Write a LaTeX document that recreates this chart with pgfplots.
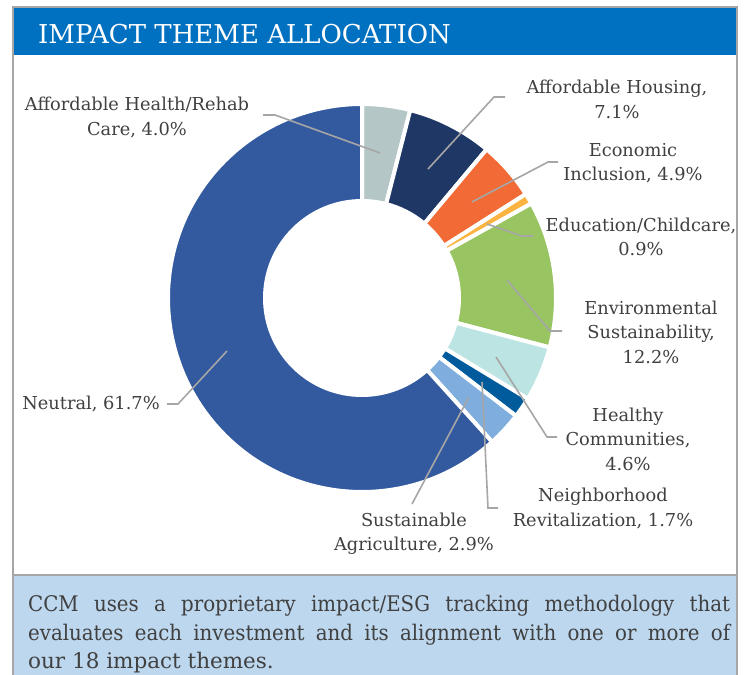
\documentclass[border=0pt]{standalone}
\usepackage{fontspec}
\setmainfont{DejaVu Serif}
\newfontfamily\narrowserif[FakeStretch=0.92]{DejaVu Serif}
\usepackage{pgfplots}
\pgfplotsset{compat=1.18}
\usepackage{pgfplotstable}
\usetikzlibrary{calc}

\definecolor{c0}{HTML}{B4C6C6}
\definecolor{c1}{HTML}{1E3765}
\definecolor{c2}{HTML}{F26A35}
\definecolor{c3}{HTML}{FBB441}
\definecolor{c4}{HTML}{98C462}
\definecolor{c5}{HTML}{BCE4E3}
\definecolor{c6}{HTML}{005B9C}
\definecolor{c7}{HTML}{7FAEDE}
\definecolor{c8}{HTML}{33599F}
\definecolor{hdr}{HTML}{0070C0}
\definecolor{boxbg}{HTML}{BDD7EE}
\definecolor{frame}{HTML}{A6A6A6}
\definecolor{txt}{HTML}{404040}

\pgfplotstableread[col sep=comma]{
theme,value
Affordable Health/Rehab Care,4.0
Affordable Housing,7.1
Economic Inclusion,4.9
Education/Childcare,0.9
Environmental Sustainability,12.2
Healthy Communities,4.6
Neighborhood Revitalization,1.7
Sustainable Agriculture,2.9
Neutral,61.7
}\slices

\begin{document}
\begin{tikzpicture}[x=1pt,y=1pt,
  lbl/.style={font=\fontsize{17.8}{24.5}\selectfont, text=txt, align=center, inner sep=0pt},
  lead/.style={draw=frame, line width=1.6pt}]
\useasboundingbox (0,0) rectangle (748,-675);
\fill[white] (0,0) rectangle (748,-675);
% outer frame
\draw[frame, line width=1.5pt] (13,-700) -- (13,-7) -- (737,-7) -- (737,-700);
% header
\fill[hdr] (14,-8) rectangle (736,-55);
\node[anchor=base west, inner sep=0pt, text=white, font=\fontsize{26}{30}\selectfont] at (38,-43) {IMPACT THEME ALLOCATION};
% bottom box
\fill[boxbg] (13,-575) rectangle (737,-700);
\draw[frame, line width=2pt] (13,-700) -- (13,-575) -- (737,-575) -- (737,-700);
\begin{scope}[every node/.style={anchor=base west, inner sep=0pt, text=txt}]
\node[font=\narrowserif\fontsize{21.5}{29}\selectfont] at (28,-611) {\makebox[702pt][s]{CCM uses a proprietary impact/ESG tracking methodology that}};
\node[font=\narrowserif\fontsize{21.5}{29}\selectfont] at (28,-640) {\makebox[702pt][s]{evaluates each investment and its alignment with one or more of}};
\node[font=\fontsize{21.5}{29}\selectfont] at (28,-668) {our 18 impact themes.};
\end{scope}

\begin{axis}[at={(0,0)}, anchor=north west, x=1pt, y=1pt,
  xmin=0, xmax=748, ymin=-675, ymax=0, enlargelimits=false,
  hide axis, clip=false]
\pgfplotsextra{%
  \coordinate (ctr) at (axis cs:362,-298);
  \gdef\cum{0}%
  \pgfplotstableforeachcolumnelement{value}\of\slices\as\v{%
    \pgfmathsetmacro\sa{90-3.6*\cum}%
    \pgfmathsetmacro\ea{90-3.6*(\cum+\v)}%
    \pgfmathsetmacro\newcum{\cum+\v}%
    \xdef\cum{\newcum}%
    \filldraw[draw=white, line width=4pt, line join=bevel, fill=c\pgfplotstablerow]
      ($(ctr)+(\sa:194pt)$) arc[start angle=\sa, end angle=\ea, radius=194pt]
      -- ($(ctr)+(\ea:97pt)$) arc[start angle=\ea, end angle=\sa, radius=97pt] -- cycle;
  }%
  % leader lines
  \draw[lead] (axis cs:263,-115) -- (axis cs:275,-115) -- (axis cs:380,-153);
  \draw[lead] (axis cs:505,-97) -- (axis cs:494,-97) -- (axis cs:428,-169);
  \draw[lead] (axis cs:558,-162) -- (axis cs:548,-162) -- (axis cs:472,-202);
  \draw[lead] (axis cs:533,-236) -- (axis cs:522,-236) -- (axis cs:487,-224);
  \draw[lead] (axis cs:562,-331) -- (axis cs:550,-331) -- (axis cs:507,-280);
  \draw[lead] (axis cs:557,-437) -- (axis cs:547,-437) -- (axis cs:496,-357);
  \draw[lead] (axis cs:498,-508) -- (axis cs:488,-508) -- (axis cs:482,-382);
  \draw[lead] (axis cs:412,-504) -- (axis cs:469,-397);
  \draw[lead] (axis cs:167,-404) -- (axis cs:178,-404) -- (axis cs:227,-351);
  % labels
  \node[lbl] at (axis cs:137,-117.5) {Affordable Health/Rehab\\Care, 4.0\%};
  \node[lbl] at (axis cs:617,-99.5) {Affordable Housing,\\7.1\%};
  \node[lbl] at (axis cs:633,-163) {Economic\\Inclusion, 4.9\%};
  \node[lbl] at (axis cs:641,-237) {Education/Childcare,\\0.9\%};
  \node[lbl] at (axis cs:651,-332) {Environmental\\Sustainability,\\12.2\%};
  \node[lbl] at (axis cs:628,-439) {Healthy\\Communities,\\4.6\%};
  \node[lbl] at (axis cs:603,-508.5) {Neighborhood\\Revitalization, 1.7\%};
  \node[lbl] at (axis cs:414,-533.5) {Sustainable\\Agriculture, 2.9\%};
  \node[lbl] at (axis cs:91,-404) {Neutral, 61.7\%};
}
\end{axis}
\end{tikzpicture}
\end{document}
